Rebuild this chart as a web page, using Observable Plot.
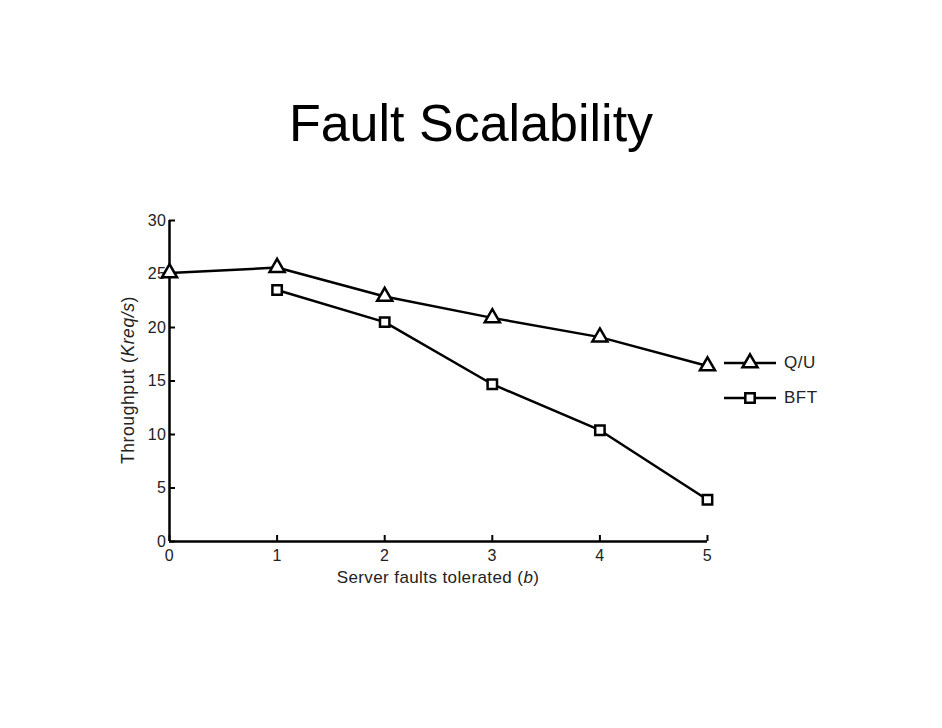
<!DOCTYPE html>
<html>
<head>
<meta charset="utf-8">
<script src="https://cdn.jsdelivr.net/npm/d3@7"></script>
<script src="https://cdn.jsdelivr.net/npm/@observablehq/plot@0.6"></script>
<style>
  html, body { margin: 0; padding: 0; background: #fff; }
  #wrap { position: relative; width: 942px; height: 728px; font-family: "Liberation Sans", Arial, sans-serif; overflow: hidden; }
  #title { position: absolute; left: 0; width: 942px; top: 97px; text-align: center; font-size: 52px; color: #000; line-height: 1; }
  #chart { position: absolute; left: 0; top: 170px; }
  #xlabel { position: absolute; left: 169px; width: 538px; top: 568px; text-align: center; font-size: 17px; letter-spacing: 0.4px; color: #222; }
  #ylabel { position: absolute; left: 128px; top: 380px; transform: translate(-50%, -50%) rotate(-90deg); white-space: nowrap; font-size: 17.5px; letter-spacing: 0.6px; color: #222; }
  #legend { position: absolute; left: 722px; top: 345px; font-size: 17px; letter-spacing: 0.5px; color: #222; }
  #legend .row { display: flex; align-items: center; height: 35px; }
  #legend svg { margin-right: 6px; }
</style>
</head>
<body>
<div id="wrap">
  <div id="title">Fault Scalability</div>
  <div id="chart"></div>
  <div id="xlabel">Server faults tolerated (<i>b</i>)</div>
  <div id="ylabel">Throughput (<i>Kreq/s</i>)</div>
  <div id="legend"></div>
</div>
<script>
const faults = [0, 1, 2, 3, 4, 5];
const quThroughput = [25.1, 25.6, 22.9, 20.9, 19.1, 16.4];
const bftFaults = [1, 2, 3, 4, 5];
const bftThroughput = [23.5, 20.5, 14.7, 10.4, 3.9];
const seriesNames = ["Q/U", "BFT"];
const seriesSymbols = ["triangle", "square"];
const seriesRadius = [5.6, 5.3];
const xTicks = [0, 1, 2, 3, 4, 5];
const yTicks = [0, 5, 10, 15, 20, 25, 30];

const quRows = faults.map((f, i) => ({series: seriesNames[0], b: f, t: quThroughput[i]}));
const bftRows = bftFaults.map((f, i) => ({series: seriesNames[1], b: f, t: bftThroughput[i]}));

const plot = Plot.plot({
  width: 942,
  height: 558,
  marginTop: 50,
  marginBottom: 187,
  marginLeft: 169,
  marginRight: 235,
  style: {fontFamily: "'Liberation Sans', Arial, sans-serif", fontSize: "16px", letterSpacing: "0.5px", color: "#222", background: "transparent", overflow: "visible"},
  x: {domain: [0, 5], label: null},
  y: {domain: [0, 30], label: null},
  marks: [
    Plot.axisX({ticks: xTicks, tickSize: -6, tickPadding: 14, stroke: "#000", strokeWidth: 2, tickFormat: d => String(d), label: null}),
    Plot.axisY({ticks: yTicks, tickSize: -6, tickPadding: 9, stroke: "#000", strokeWidth: 2, tickFormat: d => String(d), label: null}),
    Plot.ruleX([0], {stroke: "#000", strokeWidth: 2.5}),
    Plot.ruleY([0], {stroke: "#000", strokeWidth: 2.5}),
    Plot.line(quRows, {x: "b", y: "t", stroke: "#000", strokeWidth: 2.5}),
    Plot.line(bftRows, {x: "b", y: "t", stroke: "#000", strokeWidth: 2.5}),
    Plot.dot(quRows, {x: "b", y: "t", symbol: seriesSymbols[0], stroke: "#000", strokeWidth: 2.5, fill: "#fff", r: seriesRadius[0]}),
    Plot.dot(bftRows, {x: "b", y: "t", symbol: seriesSymbols[1], stroke: "#000", strokeWidth: 2.5, fill: "#fff", r: seriesRadius[1]})
  ]
});
document.getElementById("chart").appendChild(plot);

// legend
const legend = d3.select("#legend");
seriesNames.forEach((name, i) => {
  const row = legend.append("div").attr("class", "row");
  const svg = row.append("svg").attr("width", 56).attr("height", 22);
  svg.append("line").attr("x1", 2).attr("x2", 54).attr("y1", 11).attr("y2", 11).attr("stroke", "#000").attr("stroke-width", 2.5);
  const sym = i === 0 ? d3.symbolTriangle : d3.symbolSquare;
  const size = Math.PI * seriesRadius[i] * seriesRadius[i];
  svg.append("path").attr("d", d3.symbol(sym, size)()).attr("transform", "translate(28,11)")
    .attr("fill", "#fff").attr("stroke", "#000").attr("stroke-width", 2.5);
  row.append("span").text(name);
});
</script>
</body>
</html>
